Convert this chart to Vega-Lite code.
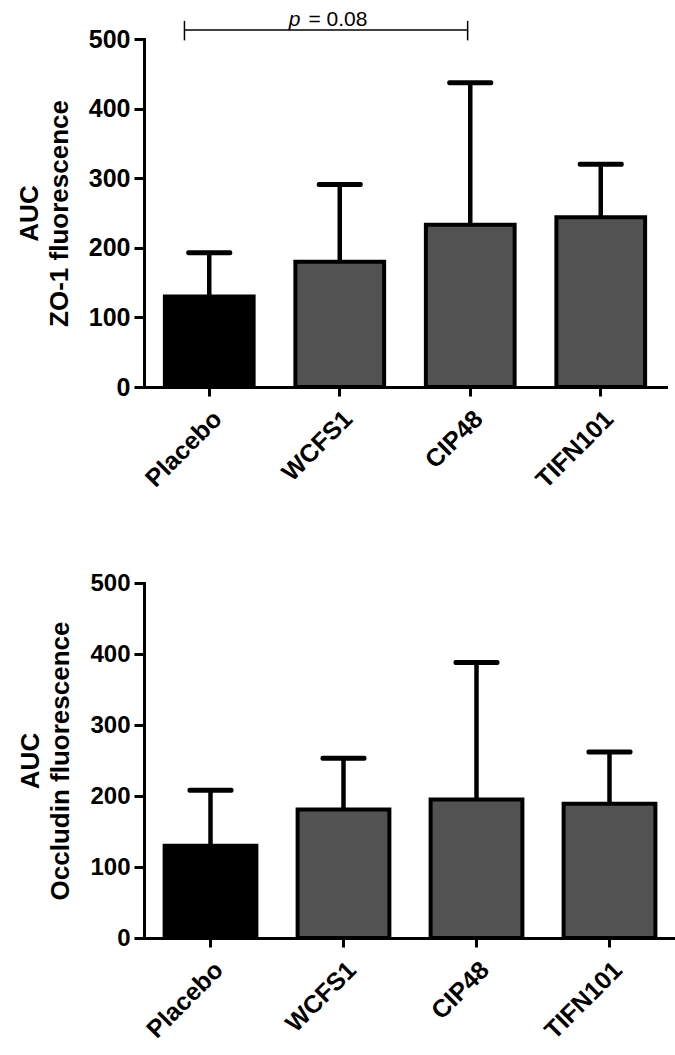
{
  "$schema": "https://vega.github.io/schema/vega-lite/v6.json",
  "background": "white",
  "padding": {"top": 8, "left": 16, "right": 5, "bottom": 5},
  "spacing": 78,
  "config": {
    "font": "Liberation Sans",
    "view": {"stroke": null},
    "axis": {
      "domainColor": "black", "domainWidth": 3, "domainCap": "square",
      "tickColor": "black", "tickWidth": 3, "tickSize": 10,
      "labelColor": "black", "labelFont": "Liberation Sans", "labelFontWeight": "bold", "labelFontSize": 25,
      "titleColor": "black", "titleFont": "Liberation Sans", "titleFontWeight": "bold", "titleFontSize": 26,
      "grid": false
    }
  },
  "datasets": {
    "zo1": [
      {"group": "Placebo", "mean": 130, "upper": 193},
      {"group": "WCFS1", "mean": 180, "upper": 291},
      {"group": "CIP48", "mean": 233, "upper": 437},
      {"group": "TIFN101", "mean": 244, "upper": 320}
    ],
    "occ": [
      {"group": "Placebo", "mean": 130, "upper": 208},
      {"group": "WCFS1", "mean": 181, "upper": 253},
      {"group": "CIP48", "mean": 195, "upper": 388},
      {"group": "TIFN101", "mean": 189, "upper": 262}
    ],
    "bracket": [{"x1": 0.31, "x2": 2.48, "y": 513}],
    "bracketEnds": [{"x": 0.31, "ylo": 498, "yhi": 526}, {"x": 2.48, "ylo": 498, "yhi": 526}],
    "pval": [{"p": "p", "px": 1.11, "rest": "= 0.08", "rx": 1.26, "y": 519}]
  },
  "vconcat": [
    {
      "width": 522,
      "height": 348,
      "resolve": {"scale": {"x": "independent"}},
      "layer": [
        {
          "data": {"name": "zo1"},
          "encoding": {
            "x": {"field": "group", "type": "nominal", "sort": null,
                  "scale": {"paddingInner": 0.32},
                  "axis": {"title": null, "labelAngle": -45, "labelPadding": 10, "tickSize": 9}},
            "y": {"type": "quantitative",
                  "scale": {"domain": [0, 500], "nice": false},
                  "axis": {"title": ["AUC", "ZO-1 fluorescence"], "values": [0, 100, 200, 300, 400, 500],
                           "titleLineHeight": 30, "titlePadding": 16, "labelPadding": 4}}
          },
          "layer": [
            {"mark": {"type": "rule", "color": "black", "strokeWidth": 4.5},
             "encoding": {"y": {"field": "mean"}, "y2": {"field": "upper"}}},
            {"mark": {"type": "bar", "stroke": "black", "strokeWidth": 4},
             "encoding": {"y": {"field": "mean"},
                          "color": {"field": "group", "type": "nominal", "legend": null,
                                    "scale": {"domain": ["Placebo", "WCFS1", "CIP48", "TIFN101"],
                                              "range": ["#000000", "#525252", "#525252", "#525252"]}}}},
            {"mark": {"type": "tick", "color": "black", "size": 46, "thickness": 5, "opacity": 1, "cornerRadius": 2},
             "encoding": {"y": {"field": "upper"}}}
          ]
        },
        {
          "data": {"name": "bracket"},
          "mark": {"type": "rule", "color": "black", "strokeWidth": 1.5},
          "encoding": {
            "x": {"field": "x1", "type": "quantitative", "scale": {"domain": [0, 4], "nice": false, "zero": false}, "axis": null},
            "x2": {"field": "x2"},
            "y": {"field": "y", "type": "quantitative"}
          }
        },
        {
          "data": {"name": "bracketEnds"},
          "mark": {"type": "rule", "color": "black", "strokeWidth": 1.5},
          "encoding": {
            "x": {"field": "x", "type": "quantitative", "scale": {"domain": [0, 4], "nice": false, "zero": false}, "axis": null},
            "y": {"field": "ylo", "type": "quantitative"},
            "y2": {"field": "yhi"}
          }
        },
        {
          "data": {"name": "pval"},
          "mark": {"type": "text", "align": "left", "baseline": "alphabetic", "fontSize": 21, "fontStyle": "italic", "color": "black", "font": "Liberation Sans"},
          "encoding": {
            "x": {"field": "px", "type": "quantitative", "scale": {"domain": [0, 4], "nice": false, "zero": false}, "axis": null},
            "y": {"field": "y", "type": "quantitative"},
            "text": {"field": "p"}
          }
        },
        {
          "data": {"name": "pval"},
          "mark": {"type": "text", "align": "left", "baseline": "alphabetic", "fontSize": 21, "color": "black", "font": "Liberation Sans"},
          "encoding": {
            "x": {"field": "rx", "type": "quantitative", "scale": {"domain": [0, 4], "nice": false, "zero": false}, "axis": null},
            "y": {"field": "y", "type": "quantitative"},
            "text": {"field": "rest"}
          }
        }
      ]
    },
    {
      "width": 532,
      "height": 355,
      "data": {"name": "occ"},
      "encoding": {
        "x": {"field": "group", "type": "nominal", "sort": null,
              "scale": {"paddingInner": 0.31},
              "axis": {"title": null, "labelAngle": -45, "labelPadding": 10, "tickSize": 9}},
        "y": {"type": "quantitative",
              "scale": {"domain": [0, 500], "nice": false},
              "axis": {"title": ["AUC", "Occludin fluorescence"], "values": [0, 100, 200, 300, 400, 500],
                       "titleLineHeight": 30, "titlePadding": 16, "labelPadding": 4, "labelFontSize": 24}}
      },
      "layer": [
        {"mark": {"type": "rule", "color": "black", "strokeWidth": 4.5},
         "encoding": {"y": {"field": "mean"}, "y2": {"field": "upper"}}},
        {"mark": {"type": "bar", "stroke": "black", "strokeWidth": 4},
         "encoding": {"y": {"field": "mean"},
                      "color": {"field": "group", "type": "nominal", "legend": null,
                                "scale": {"domain": ["Placebo", "WCFS1", "CIP48", "TIFN101"],
                                          "range": ["#000000", "#525252", "#525252", "#525252"]}}}},
        {"mark": {"type": "tick", "color": "black", "size": 46, "thickness": 5, "opacity": 1, "cornerRadius": 2},
         "encoding": {"y": {"field": "upper"}}}
      ]
    }
  ]
}
